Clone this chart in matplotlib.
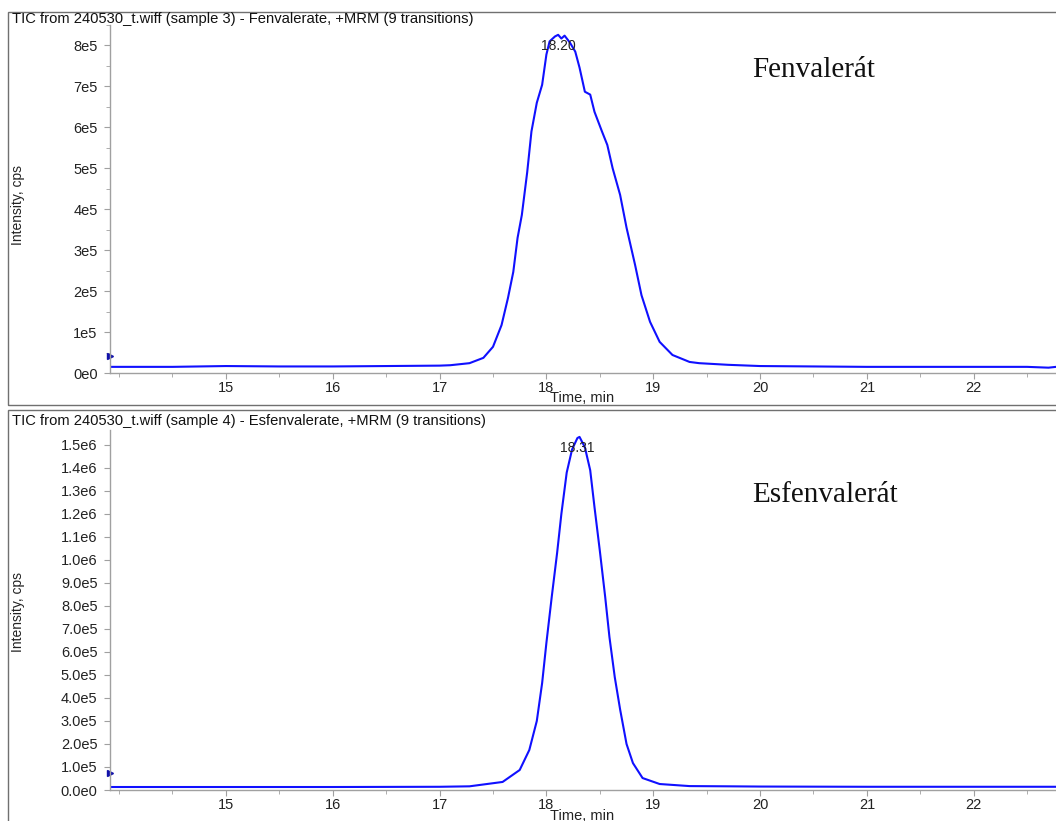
import matplotlib
matplotlib.use("Agg")
import matplotlib.pyplot as plt
from matplotlib.patches import Rectangle
from matplotlib.ticker import MultipleLocator, FixedLocator, FuncFormatter

# ---------------- data ----------------
titles = ["TIC from 240530_t.wiff (sample 3) - Fenvalerate, +MRM (9 transitions)",
          "TIC from 240530_t.wiff (sample 4) - Esfenvalerate, +MRM (9 transitions)"]
names = ["Fenvalerát", "Esfenvalerát"]
peak_labels = ["18.20", "18.31"]
x_ticks = [15, 16, 17, 18, 19, 20, 21, 22]

time_fen = [13.92, 14.5, 15.0, 15.5, 16.0, 16.5, 17.0, 17.10, 17.28, 17.41, 17.50, 17.58,
            17.64, 17.69, 17.73, 17.77, 17.82, 17.86, 17.91, 17.96, 18.00, 18.03, 18.08,
            18.11, 18.14, 18.17, 18.22, 18.27, 18.31, 18.36, 18.41, 18.45, 18.52, 18.57,
            18.62, 18.69, 18.75, 18.83, 18.89, 18.97, 19.06, 19.18, 19.34, 19.43, 19.7,
            20.0, 20.5, 21.0, 21.5, 22.0, 22.5, 22.7, 22.77]
int_fen = [1.5e4, 1.5e4, 1.7e4, 1.6e4, 1.6e4, 1.7e4, 1.8e4, 1.9e4, 2.4e4, 3.7e4, 6.4e4, 1.17e5,
           1.83e5, 2.47e5, 3.3e5, 3.86e5, 4.9e5, 5.9e5, 6.6e5, 7.04e5, 7.78e5, 8.1e5, 8.22e5,
           8.26e5, 8.17e5, 8.24e5, 8.07e5, 7.85e5, 7.46e5, 6.87e5, 6.8e5, 6.38e5, 5.9e5, 5.57e5,
           5.0e5, 4.35e5, 3.55e5, 2.64e5, 1.9e5, 1.25e5, 7.6e4, 4.4e4, 2.7e4, 2.4e4, 2.0e4,
           1.7e4, 1.6e4, 1.5e4, 1.5e4, 1.5e4, 1.5e4, 1.3e4, 1.5e4]

time_esf = [13.92, 15.0, 16.0, 17.0, 17.28, 17.59, 17.75, 17.84, 17.91, 17.96, 18.00, 18.05,
            18.10, 18.14, 18.19, 18.24, 18.29, 18.31, 18.36, 18.41, 18.45, 18.50, 18.55, 18.59,
            18.64, 18.69, 18.75, 18.81, 18.90, 19.06, 19.34, 19.7, 20.0, 21.0, 22.0, 22.77]
int_esf = [1.3e4, 1.3e4, 1.3e4, 1.4e4, 1.6e4, 3.5e4, 8.7e4, 1.74e5, 3.0e5, 4.65e5, 6.4e5, 8.4e5,
           1.03e6, 1.2e6, 1.38e6, 1.48e6, 1.53e6, 1.535e6, 1.49e6, 1.39e6, 1.23e6, 1.04e6, 8.4e5,
           6.65e5, 4.9e5, 3.5e5, 2.0e5, 1.17e5, 5.2e4, 2.6e4, 1.7e4, 1.6e4, 1.5e4, 1.4e4, 1.4e4,
           1.4e4]

marker_vals = [4.2e4, 7.5e4]
peak_pos = [(18.11, 8.26e5), (18.29, 1.535e6)]

# ---------------- figure ----------------
W, H = 1056, 821
fig = plt.figure(figsize=(W / 100, H / 100), dpi=100)
plt.rcParams['font.family'] = ['Liberation Sans', 'DejaVu Sans']

def fx(px):
    return px / W

def fy(py):
    return 1 - py / H

# panel frames
for (top, bot) in [(12, 405), (410, 830)]:
    fig.patches.append(Rectangle((fx(8), fy(bot)), 1.2, fy(top) - fy(bot),
                                 transform=fig.transFigure, fill=False,
                                 edgecolor='#707070', linewidth=1.0, zorder=0))

xlim = (13.915, 22.77)
specs = [
    dict(top=25, bottom=373, ylim=(0, 8.5e5), major=1e5, minor=5e4,
         fmt=lambda v, p: f"{int(round(v / 1e5))}e5" if v > 0 else "0e0",
         t=time_fen, y=int_fen, title_y=19, xlabel_y=398, ylabel_y=205,
         name_y=70),
    dict(top=430, bottom=790, ylim=(0, 1.565e6), major=1e5, minor=None,
         fmt=lambda v, p: (f"{v / 1e6:.1f}e6" if v >= 9.95e5 else
                           (f"{v / 1e5:.1f}e5" if v > 0 else "0.0e0")),
         t=time_esf, y=int_esf, title_y=421, xlabel_y=816, ylabel_y=612,
         name_y=495),
]

for i, s in enumerate(specs):
    left, right = 110, 1056
    ax = fig.add_axes([fx(left), fy(s['bottom']), fx(right) - fx(left),
                       fy(s['top']) - fy(s['bottom'])])
    ax.plot(s['t'], s['y'], color='#1010ff', linewidth=1.5)
    ax.set_xlim(*xlim)
    ax.set_ylim(*s['ylim'])
    for sp in ['top', 'right']:
        ax.spines[sp].set_visible(False)
    for sp in ['left', 'bottom']:
        ax.spines[sp].set_color('#a0a0a0')
        ax.spines[sp].set_linewidth(1.0)
    ax.xaxis.set_major_locator(FixedLocator(x_ticks))
    ax.xaxis.set_minor_locator(MultipleLocator(0.5))
    ax.yaxis.set_major_locator(MultipleLocator(s['major']))
    if s['minor']:
        ax.yaxis.set_minor_locator(MultipleLocator(s['minor']))
    ax.yaxis.set_major_formatter(FuncFormatter(s['fmt']))
    ax.tick_params(axis='both', which='both', direction='out', color='#a0a0a0',
                   labelsize=10.5, labelcolor='#222222')
    ax.tick_params(axis='both', which='major', length=4)
    ax.tick_params(axis='both', which='minor', length=3)
    ax.tick_params(axis='y', pad=5)
    ax.tick_params(axis='x', pad=1.5)
    ax.patch.set_alpha(0)

    # arrow marker at left edge
    ax.plot([xlim[0]], [marker_vals[i]], marker='>', color='#1010aa', markersize=4,
            clip_on=False, linestyle='none')

    # peak label
    ax.annotate(peak_labels[i], xy=peak_pos[i], xytext=(0, -8), textcoords='offset points',
                ha='center', va='center', fontsize=10, color='#222222')

    fig.text(fx(12), fy(s['title_y']), titles[i], ha='left', va='center', fontsize=10.6,
             color='#111111')
    fig.text(fx(582), fy(s['xlabel_y']), "Time, min", ha='center', va='center',
             fontsize=10.5, color='#222222')
    fig.text(fx(18), fy(s['ylabel_y']), "Intensity, cps", ha='center', va='center',
             rotation=90, fontsize=10, color='#222222')
    fig.text(fx(752), fy(s['name_y']), names[i], ha='left', va='center', fontsize=21,
             family=['Liberation Serif', 'DejaVu Serif'], color='#111111')

fig.savefig("out.png", dpi=100)
